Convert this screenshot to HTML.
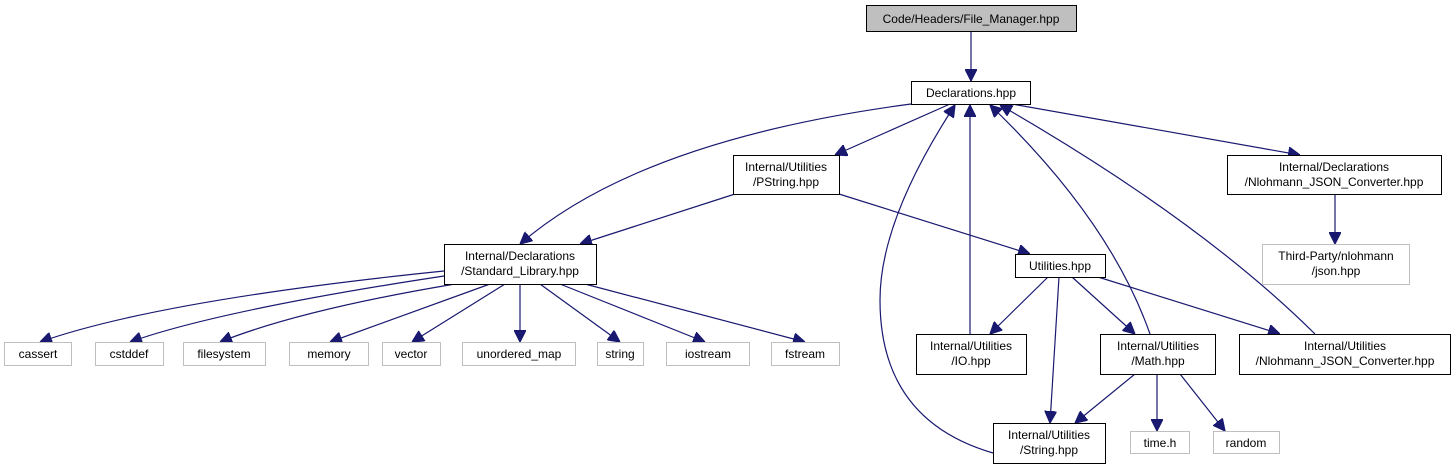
<!DOCTYPE html>
<html><head><meta charset="utf-8"><style>
html,body{margin:0;padding:0;background:#fff;}
svg{display:block;}
text{font-family:"Liberation Sans",Arial,sans-serif;font-size:12px;fill:#000;}
</style></head><body>
<svg width="1454" height="469" viewBox="0 0 1454 469" xmlns="http://www.w3.org/2000/svg">
<defs>
<marker id="a" viewBox="0 0 10 10" refX="10" refY="5" markerWidth="12" markerHeight="12" markerUnits="userSpaceOnUse" orient="auto">
<path d="M0,0 L10,5 L0,10 z" fill="#191970" stroke="#191970"/>
</marker>
</defs>
<g fill="none" stroke="#191970" stroke-width="1.2" marker-end="url(#a)">
<path d="M971,31 L971,81"/>
<path d="M911,104 Q640,140 520,244"/>
<path d="M950,104 L835,155"/>
<path d="M1012,104 L1300,155"/>
<path d="M735,194 L580,244"/>
<path d="M839,194 L1030,254"/>
<path d="M970,334 L970,105"/>
<path d="M993,453 Q880,420 880,300 Q880,220 955,105"/>
<path d="M1150,334 Q1110,220 990,105"/>
<path d="M1315,334 Q1200,220 1000,105"/>
<path d="M1335,194 L1335,244"/>
<path d="M1048,277 L990,334"/>
<path d="M1059,277 L1050,423"/>
<path d="M1072,277 L1135,334"/>
<path d="M1098,277 L1280,334"/>
<path d="M1135,374 L1075,423"/>
<path d="M1157,374 L1157,431"/>
<path d="M1180,374 L1225,431"/>
<path d="M444,271 Q160,300 40,342"/>
<path d="M444,276 Q220,310 130,342"/>
<path d="M455,284 Q300,310 220,342"/>
<path d="M490,284 L330,342"/>
<path d="M505,284 L412,342"/>
<path d="M520,284 L520,342"/>
<path d="M540,284 L620,342"/>
<path d="M560,284 L705,342"/>
<path d="M585,284 L805,342"/>
</g>
<g stroke-width="1">
<rect x="866.5" y="5.5" width="210" height="26" fill="#bfbfbf" stroke="#000"/>
<rect x="911.5" y="81.5" width="119" height="23" fill="#fff" stroke="#000"/>
<rect x="733.5" y="155.5" width="106" height="39" fill="#fff" stroke="#000"/>
<rect x="1227.5" y="155.5" width="214" height="39" fill="#fff" stroke="#000"/>
<rect x="1262.5" y="244.5" width="147" height="40" fill="#fff" stroke="#bfbfbf"/>
<rect x="444.5" y="244.5" width="152" height="40" fill="#fff" stroke="#000"/>
<rect x="1015.5" y="254.5" width="90" height="23" fill="#fff" stroke="#000"/>
<rect x="916.5" y="334.5" width="110" height="40" fill="#fff" stroke="#000"/>
<rect x="1100.5" y="334.5" width="115" height="40" fill="#fff" stroke="#000"/>
<rect x="1239.5" y="334.5" width="211" height="40" fill="#fff" stroke="#000"/>
<rect x="993.5" y="423.5" width="112" height="40" fill="#fff" stroke="#000"/>
<g fill="#fff" stroke="#bfbfbf">
<rect x="1130.5" y="431.5" width="59" height="22"/>
<rect x="1213.5" y="431.5" width="66" height="22"/>
<rect x="4.5" y="342.5" width="67" height="23"/>
<rect x="95.5" y="342.5" width="68" height="23"/>
<rect x="183.5" y="342.5" width="82" height="23"/>
<rect x="289.5" y="342.5" width="79" height="23"/>
<rect x="382.5" y="342.5" width="58" height="23"/>
<rect x="462.5" y="342.5" width="113" height="23"/>
<rect x="597.5" y="342.5" width="46" height="23"/>
<rect x="666.5" y="342.5" width="83" height="23"/>
<rect x="771.5" y="342.5" width="68" height="23"/>
</g>
</g>
<g text-anchor="middle">
<text x="971" y="23">Code/Headers/File_Manager.hpp</text>
<text x="971" y="97">Declarations.hpp</text>
<text x="786" y="171">Internal/Utilities</text>
<text x="786" y="186">/PString.hpp</text>
<text x="1334" y="171">Internal/Declarations</text>
<text x="1334" y="186">/Nlohmann_JSON_Converter.hpp</text>
<text x="1336" y="260">Third-Party/nlohmann</text>
<text x="1336" y="275">/json.hpp</text>
<text x="520" y="260">Internal/Declarations</text>
<text x="520" y="275">/Standard_Library.hpp</text>
<text x="1060" y="270">Utilities.hpp</text>
<text x="971" y="350">Internal/Utilities</text>
<text x="971" y="365">/IO.hpp</text>
<text x="1158" y="350">Internal/Utilities</text>
<text x="1158" y="365">/Math.hpp</text>
<text x="1345" y="350">Internal/Utilities</text>
<text x="1345" y="365">/Nlohmann_JSON_Converter.hpp</text>
<text x="1049" y="439">Internal/Utilities</text>
<text x="1049" y="454">/String.hpp</text>
<text x="1160" y="447">time.h</text>
<text x="1246" y="447">random</text>
<text x="38" y="358">cassert</text>
<text x="129" y="358">cstddef</text>
<text x="224" y="358">filesystem</text>
<text x="329" y="358">memory</text>
<text x="411" y="358">vector</text>
<text x="519" y="358">unordered_map</text>
<text x="620" y="358">string</text>
<text x="708" y="358">iostream</text>
<text x="805" y="358">fstream</text>
</g>
</svg>
</body></html>
